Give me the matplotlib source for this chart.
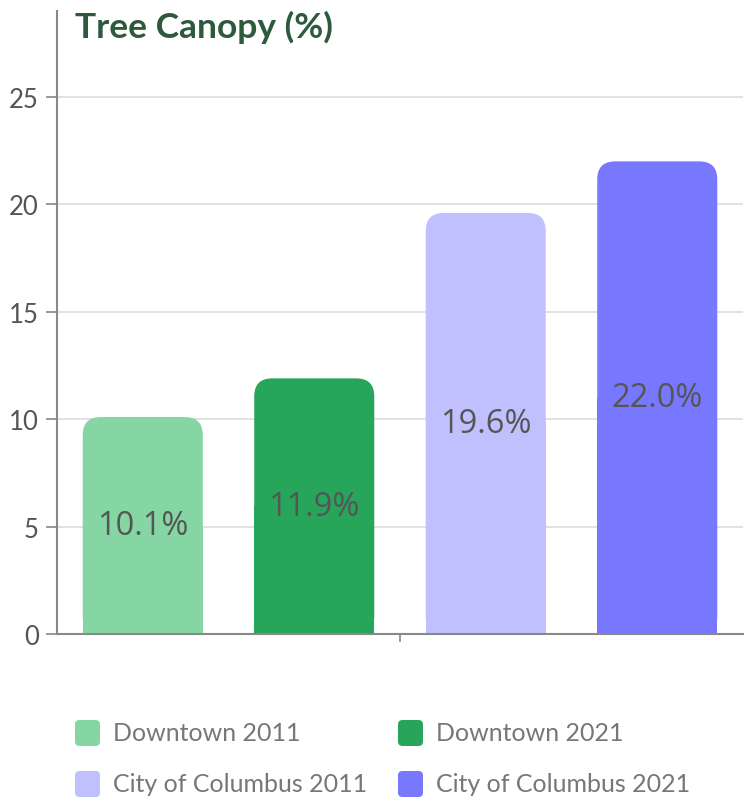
import matplotlib.pyplot as plt
import matplotlib.patches as mpatches
import numpy as np

# --- DATOS ---
categorias = ["Downtown 2011", "Downtown 2021", "City of Columbus 2011", "City of Columbus 2021"]
valores = [10.1, 11.9, 19.6, 22.0]
colores = ["#86D6A4", "#27A55A", "#C0C0FF", "#7878FF"]
yticks = [0, 5, 10, 15, 20, 25]

W, H, DPI = 751, 804, 100
fig = plt.figure(figsize=(W / DPI, H / DPI), dpi=DPI)
ax = fig.add_axes([57 / W, 169 / H, 686 / W, 623 / H])

x = np.arange(len(valores))
ax.set_xlim(-0.5, len(valores) - 0.5)
ax.set_ylim(0, 29)

barras = ax.bar(x, valores, width=0.7, color=colores)

# --- BARRAS REDONDEADAS ---
radio_px = 18
px_x = (len(valores)) / 686.0   # unidades de datos por pixel en x
px_y = 29 / 623.0               # unidades de datos por pixel en y
for b in barras:
    bx, by, bw, bh = b.get_x(), b.get_y(), b.get_width(), b.get_height()
    c = b.get_facecolor()
    b.set_visible(False)
    r = radio_px * px_x
    redondo = mpatches.FancyBboxPatch((bx, by), bw, bh,
                                      boxstyle=f"round,pad=0,rounding_size={r}",
                                      mutation_aspect=px_y / px_x,
                                      facecolor=c, edgecolor="none", zorder=2)
    ax.add_patch(redondo)
    ax.add_patch(mpatches.Rectangle((bx, by), bw, bh / 2, facecolor=c,
                                    edgecolor="none", zorder=2))

# --- ETIQUETAS ---
for xi, v in zip(x, valores):
    ax.text(xi, v / 2, f"{v:.1f}%", ha="center", va="center", fontsize=23.5,
            family="Open Sans", color="#555555", zorder=3)

# --- EJES ---
ax.set_yticks(yticks)
ax.set_yticklabels([str(t) for t in yticks], family="Lato", fontsize=18.5, color="#555555")
ax.tick_params(axis="y", length=8, width=1.2, color="#888888", pad=5)
ax.set_xticks([(len(valores) - 1) / 2])
ax.set_xticklabels([""])
ax.tick_params(axis="x", length=6, width=1.2, color="#888888")
ax.grid(axis="y", color="#DDDDDD", linewidth=1.2, zorder=0)
ax.set_axisbelow(True)
for s in ["top", "right"]:
    ax.spines[s].set_visible(False)
for s in ["left", "bottom"]:
    ax.spines[s].set_color("#888888")
    ax.spines[s].set_linewidth(1.5)

# --- TITULO ---
fig.text(75 / W, 1 - 27 / H, "Tree Canopy (%)", family="Lato", fontweight="bold",
         fontsize=25.5, color="#2D5A3D", va="center", ha="left")

# --- LEYENDA ---
pos_x = [75, 398]
pos_y = [734, 785]
for i, (cat, col) in enumerate(zip(categorias, colores)):
    lx = pos_x[i % 2]
    ly = pos_y[i // 2]
    fig.patches.append(mpatches.FancyBboxPatch(
        (lx / W, 1 - (ly + 13) / H), 25 / W, 26 / H,
        boxstyle="round,pad=0,rounding_size=0.006", mutation_aspect=W / H,
        facecolor=col, edgecolor="none", transform=fig.transFigure))
    fig.text((lx + 38) / W, 1 - ly / H, cat, family="Lato", fontsize=18,
             color="#777777", va="center", ha="left")

fig.savefig("out.png", dpi=DPI)
